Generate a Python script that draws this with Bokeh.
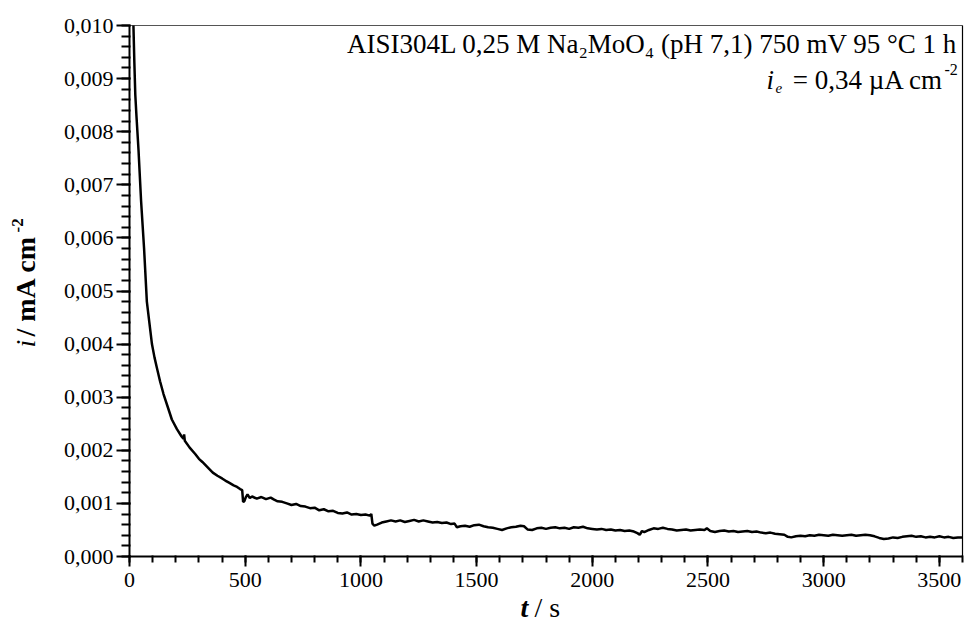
import math
from bokeh.plotting import figure
from bokeh.models import Label, SingleIntervalTicker, CustomJSTickFormatter, Range1d
from bokeh.embed import file_html
from bokeh.resources import INLINE

# ---- data (t in s, i in mA cm^-2) ----
time_s = [17, 21, 25, 30, 39, 50, 63, 75, 86, 97, 108, 118, 132, 147, 165, 183,
          205, 225, 233, 236, 239, 260, 284, 300, 315, 342, 360, 380, 400, 414, 430, 450, 465,
          478, 487, 491, 496, 503, 510, 520, 530, 550, 570, 590, 610, 625, 640, 660, 680, 700,
          720, 740, 760, 780, 800, 820, 840, 860, 880, 900, 920, 940, 960, 980, 1000, 1020,
          1038, 1045, 1050, 1058, 1070, 1090, 1110, 1130, 1150, 1170, 1190, 1210, 1230, 1250,
          1270, 1290, 1310, 1330, 1350, 1370, 1390, 1405, 1415, 1430, 1450, 1470, 1490, 1510,
          1530, 1550, 1570, 1590, 1610, 1630, 1650, 1670, 1690, 1705, 1720, 1740, 1760, 1780,
          1800, 1820, 1840, 1860, 1880, 1900, 1920, 1940, 1960, 1980, 2000, 2020, 2040, 2060,
          2080, 2100, 2120, 2140, 2160, 2180, 2195, 2205, 2215, 2225, 2245, 2265, 2285, 2305,
          2325, 2345, 2365, 2385, 2405, 2425, 2445, 2465, 2485, 2495, 2510, 2530, 2550, 2570,
          2590, 2610, 2630, 2650, 2670, 2690, 2710, 2730, 2750, 2770, 2790, 2810, 2830, 2845,
          2860, 2880, 2900, 2920, 2940, 2960, 2980, 3000, 3020, 3040, 3060, 3080, 3100, 3120,
          3140, 3160, 3180, 3200, 3220, 3240, 3260, 3280, 3300, 3320, 3340, 3360, 3380, 3400,
          3420, 3440, 3460, 3480, 3500, 3520, 3540, 3560, 3580, 3600]
current = [0.01000, 0.00930, 0.00870, 0.00830, 0.00765, 0.00670,
           0.00580, 0.00480, 0.00440, 0.00400, 0.00375, 0.00356, 0.00330, 0.00306, 0.00282,
           0.00258, 0.00240, 0.00226, 0.00222, 0.00230, 0.00218, 0.00205, 0.00193, 0.00184,
           0.00178, 0.00166, 0.00158, 0.00152, 0.00147, 0.00143, 0.00139, 0.00134, 0.00131,
           0.00127, 0.00125, 0.00103, 0.00104, 0.00112, 0.00117, 0.00110, 0.00113, 0.00109,
           0.00112, 0.00108, 0.00111, 0.00107, 0.00104, 0.00103, 0.00100, 0.00097, 0.00099,
           0.00095, 0.00094, 0.00091, 0.00092, 0.00087, 0.00089, 0.00085, 0.00086, 0.00082,
           0.00081, 0.00083, 0.00079, 0.00080, 0.00078, 0.00079, 0.00077, 0.00080, 0.00062,
           0.00058, 0.00060, 0.00064, 0.00066, 0.00068, 0.00066, 0.00068, 0.00065, 0.00067,
           0.00069, 0.00066, 0.00068, 0.00066, 0.00064, 0.00065, 0.00063, 0.00064, 0.00061,
           0.00062, 0.00055, 0.00057, 0.00058, 0.00056, 0.00059, 0.00060, 0.00057, 0.00055,
           0.00054, 0.00052, 0.00050, 0.00053, 0.00055, 0.00056, 0.00058, 0.00057, 0.00051,
           0.00050, 0.00053, 0.00054, 0.00052, 0.00054, 0.00055, 0.00053, 0.00054, 0.00052,
           0.00055, 0.00054, 0.00056, 0.00053, 0.00052, 0.00051, 0.00052, 0.00050, 0.00051,
           0.00049, 0.00050, 0.00048, 0.00049, 0.00047, 0.00044, 0.00041, 0.00048, 0.00046,
           0.00050, 0.00053, 0.00052, 0.00054, 0.00052, 0.00051, 0.00049, 0.00050, 0.00051,
           0.00049, 0.00050, 0.00051, 0.00050, 0.00053, 0.00048, 0.00046, 0.00048, 0.00049,
           0.00047, 0.00048, 0.00046, 0.00047, 0.00048, 0.00046, 0.00047, 0.00045, 0.00044,
           0.00045, 0.00043, 0.00042, 0.00041, 0.00037, 0.00036, 0.00038, 0.00039, 0.00038,
           0.00040, 0.00039, 0.00041, 0.00040, 0.00039, 0.00041, 0.00040, 0.00039, 0.00040,
           0.00041, 0.00039, 0.00040, 0.00041, 0.00040, 0.00038, 0.00035, 0.00033, 0.00034,
           0.00036, 0.00035, 0.00037, 0.00038, 0.00039, 0.00037, 0.00038, 0.00036, 0.00037,
           0.00036, 0.00038, 0.00036, 0.00037, 0.00035, 0.00036, 0.00036]

x_limits = (0, 3600)
y_limits = (0, 0.010)
x_tick_interval = 500
y_tick_interval = 0.001

FONT = "Liberation Serif"
W, H = 967, 626
# pixel box of the chart area inside the canvas
BOX_L, BOX_R, BOX_T, BOX_B = 129, 962, 25, 556

def tx(px):
    return x_limits[0] + (px - BOX_L) * (x_limits[1] - x_limits[0]) / (BOX_R - BOX_L)

def ty(py):
    return y_limits[0] + (BOX_B - py) * (y_limits[1] - y_limits[0]) / (BOX_B - BOX_T)

p = figure(width=W, height=H, output_backend="svg", toolbar_location=None,
           x_range=Range1d(tx(0), tx(W)), y_range=Range1d(ty(H), ty(0)), min_border=0)
p.grid.visible = False
p.outline_line_color = None

# top and right edges of the chart box
p.line([x_limits[0], x_limits[1]], [y_limits[1], y_limits[1]], line_color="#555555", line_width=1)
p.line([x_limits[1], x_limits[1]], [y_limits[1], y_limits[0]], line_color="black", line_width=1.2)

p.line(time_s, current, line_color="black", line_width=2.5)

# main axes, pinned to the chart box
xa = p.xaxis[0]
ya = p.yaxis[0]
xa.fixed_location = y_limits[0]
xa.bounds = x_limits
ya.fixed_location = x_limits[0]
ya.bounds = y_limits
xa.ticker = SingleIntervalTicker(interval=x_tick_interval, num_minor_ticks=5)
ya.ticker = SingleIntervalTicker(interval=y_tick_interval, num_minor_ticks=5)
ya.formatter = CustomJSTickFormatter(code="return tick.toFixed(3).replace('.', ',');")
for ax in (xa, ya):
    ax.axis_line_width = 2
    ax.major_tick_line_width = 2
    ax.minor_tick_line_width = 2
    ax.major_tick_in = 1
    ax.minor_tick_in = 1
    ax.major_label_text_font = FONT
    ax.major_label_text_font_size = "22px"
    ax.major_label_text_color = "black"
xa.major_tick_out = 10
xa.minor_tick_out = 6
xa.major_label_standoff = 6
ya.major_tick_out = 13
ya.minor_tick_out = 8
ya.major_label_standoff = 3

def lab(text, px, py, size="26px", style="normal", align="left", baseline="middle", angle=0):
    p.add_layout(Label(x=tx(px), y=ty(py), text=text, text_font=FONT, text_font_size=size,
                       text_font_style=style, text_align=align, text_baseline=baseline,
                       angle=angle, text_color="black"))

# annotation (top right)
lab("AISI304L 0,25 M Na\u2082MoO\u2084 (pH 7,1) 750 mV  95 \u00b0C 1 h", 964, 43,
    size="27px", align="right")
lab("= 0,34 \u00b5A cm", 943, 79, size="27px", align="right")
lab("-2", 944, 69, size="16px")
lab("i", 766, 79, size="27px", style="italic")
lab("e", 775, 87, size="15px", style="italic")

# axis titles
lab("t", 520, 607, size="28px", style="bold italic")
lab("/ s", 534, 607, size="28px")
lab("i", 25, 347, size="28px", style="italic", angle=math.pi / 2)
lab("/ mA cm", 25, 336, size="28px", style="bold", angle=math.pi / 2)
lab("-2", 17, 232, size="17px", style="bold", angle=math.pi / 2)

open("out.html", "w").write(file_html(p, INLINE))
